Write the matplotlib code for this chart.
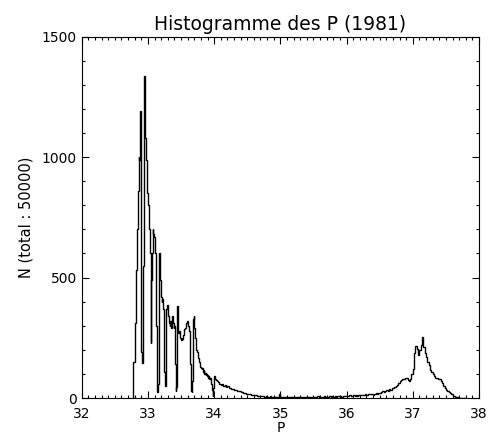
import numpy as np
import matplotlib
matplotlib.use("Agg")
import matplotlib.pyplot as plt
from matplotlib.ticker import MultipleLocator

# histogram counts
# fine bins (0.01) over the spiky part, 32.78 -> 34.10
p0_fine = 32.78
w_fine = 0.01
n_fine = [
    150, 150, 160, 310, 530, 560, 700, 860, 1000, 990,
    1190, 880, 190, 145, 210, 550, 1335, 1150, 1080, 990,
    930, 850, 800, 750, 700, 600, 230, 490, 600, 700,
    680, 670, 650, 600, 300, 35, 25, 60, 320, 600,
    540, 490, 420, 400, 410, 370, 340, 110, 50, 70,
    370, 385, 370, 340, 310, 300, 320, 290, 300, 340,
    310, 290, 300, 140, 30, 45, 380, 300, 270, 280,
    260, 250, 240, 250, 245, 260, 270, 285, 290, 300,
    310, 320, 315, 300, 280, 250, 140, 30, 25, 70,
    330, 340, 290, 250, 225, 200, 190, 170, 165, 150,
    150, 130, 125, 120, 125, 110, 115, 100, 105, 95,
    100, 90, 95, 85, 90, 80, 85, 70, 60, 35,
    10, 40, 90, 85, 80, 75, 70, 72, 65, 62,
    60, 58,
]

# coarser bins (0.02) for the long flat tail, 34.10 -> 36.40
p0_tail = 34.10
w_tail = 0.02
n_tail = [
    55, 58, 50, 52, 45, 48, 42, 40, 38, 36,
    33, 35, 30, 28, 30, 25, 24, 22, 20, 18,
    17, 15, 16, 13, 12, 14, 11, 10, 9, 10,
    8, 9, 7, 6, 8, 5, 6, 7, 5, 4,
    5, 6, 3, 4, 18, 5, 3, 4, 5, 6,
    4, 5, 3, 6, 4, 5, 3, 4, 6, 5,
    4, 3, 5, 4, 6, 3, 5, 4, 3, 5,
    6, 4, 5, 7, 4, 5, 6, 4, 7, 5,
    6, 5, 7, 6, 8, 5, 7, 6, 8, 7,
    8, 6, 9, 7, 10, 8, 9, 11, 8, 10,
    11, 9, 12, 10, 13, 11, 12, 14, 12, 15,
    14, 17, 15, 18, 16,
]

# second bump near 37, 36.40 -> 37.80
p0_bump = 36.40
w_bump = 0.02
n_bump = [
    14, 16, 20, 17, 22, 20, 24, 28, 25, 30,
    33, 30, 36, 34, 40, 42, 45, 50, 55, 62,
    70, 74, 80, 78, 84, 82, 76, 70, 78, 100,
    120, 185, 215, 205, 180, 200, 220, 255, 210, 185,
    170, 150, 135, 118, 108, 100, 92, 85, 82, 78,
    80, 72, 62, 50, 42, 35, 30, 24, 20, 15,
    10, 8, 5, 4, 3, 2, 1, 1, 0, 0,
]

counts = np.array(n_fine + n_tail + n_bump, dtype=float)
edges = np.concatenate([
    p0_fine + w_fine * np.arange(len(n_fine)),
    p0_tail + w_tail * np.arange(len(n_tail)),
    p0_bump + w_bump * np.arange(len(n_bump) + 1),
])

plt.rcParams['font.family'] = ['DejaVu Sans']

fig = plt.figure(figsize=(4.9, 4.38), dpi=100)
ax = fig.add_axes([0.1667, 0.0913, 0.8109, 0.8249])

ax.stairs(counts, edges, color='black', linewidth=1.0)

ax.set_xlim(32, 38)
ax.set_ylim(0, 1500)
ax.xaxis.set_major_locator(MultipleLocator(1))
ax.xaxis.set_minor_locator(MultipleLocator(0.1))
ax.yaxis.set_major_locator(MultipleLocator(500))
ax.yaxis.set_minor_locator(MultipleLocator(100))
ax.tick_params(which='both', direction='in', top=True, right=True,
               labelsize=10, width=0.8, color='black')
ax.tick_params(which='major', length=5)
ax.tick_params(which='minor', length=2.5)
ax.tick_params(axis='x', which='major', pad=6.5)
for s in ax.spines.values():
    s.set_linewidth(0.8)

ax.set_title("Histogramme des P (1981)", fontsize=13.5, pad=5)
ax.set_xlabel("P", fontsize=10, labelpad=0)
ax.set_ylabel("N (total : 50000)", fontsize=10.5, labelpad=6)

fig.savefig("out.png", dpi=100)
